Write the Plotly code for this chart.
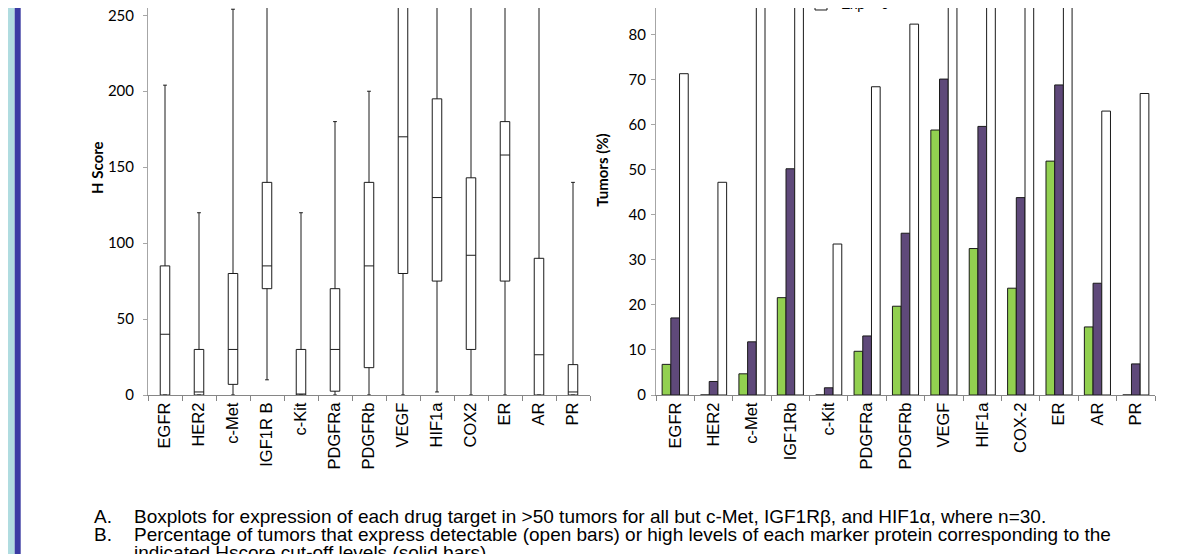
import plotly.graph_objects as go

# ---------------- data ----------------
box_cats = ["EGFR", "HER2", "c-Met", "IGF1R B", "c-Kit", "PDGFRa", "PDGFRb",
            "VEGF", "HIF1a", "COX2", "ER", "AR", "PR"]
box_min = [0, 0, 0, 10, 0, 0, 0, 0, 2, 0, 0, 0, 0]
box_q1 = [0, 0, 7, 70, 0, 2.5, 18, 80, 75, 30, 75, 0, 0]
box_median = [40, 2, 30, 85, 0, 30, 85, 170, 130, 92, 158, 26.5, 2]
box_q3 = [85, 30, 80, 140, 30, 70, 140, 270, 195, 143, 180, 90, 20]
box_max = [204, 120, 254, 300, 120, 180, 200, 300, 300, 300, 300, 300, 140]

bar_cats = ["EGFR", "HER2", "c-Met", "IGF1Rb", "c-Kit", "PDGFRa", "PDGFRb",
            "VEGF", "HIF1a", "COX-2", "ER", "AR", "PR"]
high_cut = [6.8, 0, 4.7, 21.6, 0, 9.7, 19.7, 58.8, 32.5, 23.7, 51.9, 15.1, 0]
mid_cut = [17.1, 3.0, 11.8, 50.2, 1.6, 13.1, 35.9, 70.1, 59.6, 43.8, 68.8, 24.8, 6.9]
exp_any = [71.3, 47.2, 95, 97, 33.5, 68.4, 82.3, 98, 93, 95, 97, 63.0, 66.9]

caption_a = "Boxplots for expression of each drug target in >50 tumors for all but c-Met, IGF1R\u03b2, and HIF1\u03b1, where n=30."
caption_b = "Percentage of tumors that express detectable (open bars) or high levels of each marker protein corresponding to the"
caption_c = "indicated Hscore cut-off levels (solid bars)."

# ---------------- layout geometry ----------------
W, H = 1182, 554
Y0 = 387.3          # pixel row of the zero line
B = H - Y0

def px(x):
    return x / W

def py(y):
    return (Y0 - y) / Y0

ARIAL = "Liberation Sans, Arial, sans-serif"
NUM = "Lato, Carlito, Calibri, sans-serif"

fig = go.Figure()

fig.add_trace(go.Box(
    x=box_cats, q1=box_q1, median=box_median, q3=box_q3,
    lowerfence=box_min, upperfence=box_max,
    xaxis="x", yaxis="y", fillcolor="white",
    line=dict(color="#1a1a1a", width=1), whiskerwidth=0.4,
    boxpoints=False, showlegend=False, name="H Score"))

fig.add_trace(go.Bar(x=bar_cats, y=high_cut, name="High (cut-off 1)",
                     marker=dict(color="#92D050", line=dict(color="#1a1a1a", width=1)),
                     xaxis="x2", yaxis="y2"))
fig.add_trace(go.Bar(x=bar_cats, y=mid_cut, name="High (cut-off 2)",
                     marker=dict(color="#5F497A", line=dict(color="#1a1a1a", width=1)),
                     xaxis="x2", yaxis="y2"))
fig.add_trace(go.Bar(x=bar_cats, y=exp_any, name="Exp > 0",
                     marker=dict(color="white", line=dict(color="#1a1a1a", width=1)),
                     xaxis="x2", yaxis="y2"))

xa = dict(type="category", showline=True, linecolor="#868686", linewidth=1,
          ticks="outside", tickson="boundaries", ticklen=5, tickcolor="#868686",
          tickangle=-90, tickfont=dict(family=ARIAL, size=16.5, color="black"),
          showgrid=False, zeroline=False, fixedrange=True)
ya = dict(showline=True, linecolor="#A6A6A6", linewidth=1, ticks="outside",
          ticklen=4, tickcolor="#A6A6A6",
          tickfont=dict(family=NUM, size=15, color="black"),
          showgrid=False, zeroline=False, fixedrange=True,
          ticklabeloverflow="allow")

fig.update_layout(
    width=W, height=H,
    margin=dict(l=0, r=0, t=0, b=B, autoexpand=False),
    paper_bgcolor="white", plot_bgcolor="white",
    barmode="group", bargap=0.32, bargroupgap=0, boxgap=0.6,
    xaxis=dict(xa, domain=[px(140), px(582)], anchor="y"),
    yaxis=dict(ya, range=[0, Y0 / 1.52], tickvals=[0, 50, 100, 150, 200, 250],
               anchor="x", ticklabelstandoff=6),
    xaxis2=dict(xa, domain=[px(648), px(1147)], anchor="y2"),
    yaxis2=dict(ya, range=[0, Y0 / 4.51], dtick=10, anchor="x2",
                ticklabelstandoff=2),
    showlegend=True,
    legend=dict(x=px(793), xanchor="left", y=py(12), yanchor="bottom",
                bgcolor="rgba(0,0,0,0)", font=dict(family=ARIAL, size=14, color="black"),
                tracegroupgap=0),
)

# left decorative band
fig.add_shape(type="rect", xref="paper", yref="paper", x0=0, x1=px(6.7),
              y0=py(H + 5), y1=py(-5), fillcolor="#B0DCE0", line_width=0, layer="below")
fig.add_shape(type="rect", xref="paper", yref="paper", x0=px(6.7), x1=px(12.7),
              y0=py(H + 5), y1=py(-5), fillcolor="#3B3BA3", line_width=0, layer="below")

# axis titles
fig.add_annotation(text="<b>H Score</b>", xref="paper", yref="paper",
                   x=px(78), y=py(160), textangle=-90, showarrow=False,
                   font=dict(family=NUM, size=15, color="black"))
fig.add_annotation(text="<b>Tumors (%)</b>", xref="paper", yref="paper",
                   x=px(594), y=py(162), textangle=-90, showarrow=False,
                   font=dict(family=NUM, size=15, color="black"))

# captions
for lab, txt, yy in [("A.", caption_a, 509), ("B.", caption_b, 527), ("", caption_c, 545)]:
    if lab:
        fig.add_annotation(text=lab, xref="paper", yref="paper", x=px(84), y=py(yy),
                           xanchor="left", yanchor="middle", showarrow=False,
                           font=dict(family=ARIAL, size=19, color="black"))
    fig.add_annotation(text=txt, xref="paper", yref="paper", x=px(124), y=py(yy),
                       xanchor="left", yanchor="middle", showarrow=False,
                       font=dict(family=ARIAL, size=19, color="black"))

fig.write_html("out.html")
